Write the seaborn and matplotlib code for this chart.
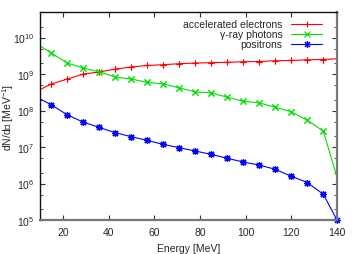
import numpy as np
import pandas as pd
import matplotlib
matplotlib.use('Agg')
import matplotlib.pyplot as plt
import matplotlib.ticker as mticker
import seaborn as sns

# energy grid [MeV]; first point lies left of the plotted range
energy = [8, 15, 22, 29, 36, 43, 50, 57, 64, 71, 78, 85, 92, 99, 106, 113, 120, 127, 134, 140]

electrons = [3.24e8, 5.36e8, 7.3e8, 1.0e9, 1.14e9, 1.37e9, 1.56e9, 1.72e9, 1.8e9, 1.92e9,
             2.0e9, 2.05e9, 2.1e9, 2.17e9, 2.2e9, 2.31e9, 2.35e9, 2.46e9, 2.5e9, 2.62e9]
photons = [7.1e9, 3.75e9, 2.0e9, 1.46e9, 1.14e9, 8.3e8, 7.3e8, 5.9e8, 5.36e8, 4.17e8,
           3.24e8, 3.04e8, 2.31e8, 1.8e8, 1.62e8, 1.23e8, 9.2e7, 5.45e7, 2.73e7, 1.5e6]
positrons = [2.43e8, 1.43e8, 7.6e7, 4.8e7, 3.44e7, 2.47e7, 1.92e7, 1.52e7, 1.18e7, 9.6e6,
             7.77e6, 6.3e6, 4.9e6, 3.9e6, 3.2e6, 2.46e6, 1.58e6, 1.07e6, 5.1e5, 1.0e5]

LABELS = ['accelerated electrons', '\u03b3-ray photons', 'positrons']
COLORS = ['#ff0000', '#00e000', '#0000ff']
MARKERS = ['+', 'x', (8, 2, 0)]
# electron and photon curves end on the border without a symbol
LAST_SYMBOL = [False, False, True]

sns.set_style('ticks')
plt.rcParams['font.family'] = ['Liberation Sans', 'DejaVu Sans']
plt.rcParams['mathtext.default'] = 'regular'
plt.rcParams['font.size'] = 7.5

df = pd.DataFrame({'energy': energy * 3,
                   'dnde': electrons + photons + positrons,
                   'kind': [LABELS[0]] * len(energy) + [LABELS[1]] * len(energy) + [LABELS[2]] * len(energy)})

fig = plt.figure(figsize=(3.57, 2.55), dpi=100)
ax = fig.add_axes([0.112, 0.133, 0.832, 0.816])

for lab, col, mk, last in zip(LABELS, COLORS, MARKERS, LAST_SYMBOL):
    sub = df[df.kind == lab]
    sns.lineplot(data=sub, x='energy', y='dnde', ax=ax, color=col,
                 marker=mk, markersize=5, markeredgewidth=0.8, markeredgecolor=col,
                 markevery=slice(0, None if last else -1), linewidth=0.8, label=lab)
    # gnuplot-like: symbols inside the x range are drawn whole, even on the border
    pts = sub[sub.energy >= 10]
    if not last:
        pts = pts.iloc[:-1]
    ax.plot(pts.energy, pts.dnde, ls='none', marker=mk, markersize=5,
            markeredgewidth=0.8, color=col, clip_on=False)

ax.set_yscale('log')
ax.set_xlim(10, 140)
ax.set_ylim(1e5, 5e10)
ax.xaxis.set_major_locator(mticker.MultipleLocator(20))
ax.yaxis.set_major_locator(mticker.LogLocator(base=10, numticks=20))
ax.yaxis.set_minor_locator(mticker.LogLocator(base=10, subs=(2, 5), numticks=20))
ax.yaxis.set_minor_formatter(mticker.NullFormatter())
ax.tick_params(which='both', direction='in', top=True, right=True, color='#333333', labelsize=7.5)
ax.tick_params(axis='y', pad=4)
ax.tick_params(axis='x', pad=5)
ax.tick_params(which='major', length=3.5, width=0.8)
ax.tick_params(which='minor', length=2, width=0.6)
for side in ['left', 'top']:
    ax.spines[side].set_color('#111111')
    ax.spines[side].set_linewidth(1.0)
for side in ['right', 'bottom']:
    ax.spines[side].set_color('#777777')
    ax.spines[side].set_linewidth(1.6)

ax.set_xlabel('Energy [MeV]', fontsize=7.5)
ax.set_ylabel('dN/d\u2130 [MeV$^{-1}$]', fontsize=7.5)
ax.xaxis.set_label_coords(0.5, -0.11)
ax.yaxis.set_label_coords(-0.08, 0.5)

ax.legend(loc='upper right', frameon=False, markerfirst=False, fontsize=7.5,
          handlelength=3.0, labelspacing=0.0, handletextpad=0.8,
          borderaxespad=0.3, bbox_to_anchor=(0.975, 1.0))

fig.savefig('out.png', dpi=100)
